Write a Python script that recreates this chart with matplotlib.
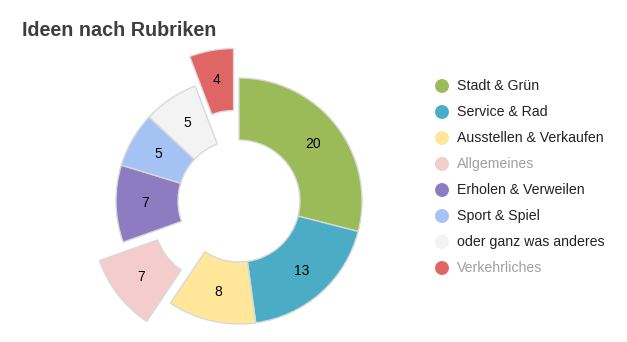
import matplotlib
matplotlib.use("Agg")
import matplotlib.pyplot as plt

plt.rcParams['font.family'] = ['Liberation Sans', 'DejaVu Sans']

categories = ["Stadt & Grün", "Service & Rad", "Ausstellen & Verkaufen", "Allgemeines",
              "Erholen & Verweilen", "Sport & Spiel", "oder ganz was anderes", "Verkehrliches"]
values = [20, 13, 8, 7, 7, 5, 5, 4]
colors = ["#9bbb59", "#4bacc6", "#ffe699", "#f4cccc", "#8e7cc3", "#a4c2f4", "#f3f3f3", "#e06666"]
sliced = [False, False, False, True, False, False, False, True]
muted = [False, False, False, True, False, False, False, True]

W, H = 627, 342
fig = plt.figure(figsize=(W / 100, H / 100), dpi=100)
ax = fig.add_axes([0, 0, 1, 1])

cx, cy, r = 239, H - 201, 123
total = sum(values)
# explode offset is in data units (pixels here)
explode = [30 if s else 0 for s in sliced]

wedges, texts, autotexts = ax.pie(
    values, colors=colors, explode=explode, radius=r, center=(cx, cy),
    startangle=90, counterclock=False,
    autopct=lambda p: f"{round(p * total / 100)}", pctdistance=0.76,
    wedgeprops=dict(width=62, edgecolor="#d9d9d9", linewidth=1),
    textprops=dict(fontsize=10, color="#000000"), frame=True)
ax.set_xlim(0, W)
ax.set_ylim(0, H)
ax.set_aspect('equal')
ax.axis('off')

fig.text(22 / W, 1 - 36 / H, "Ideen nach Rubriken", fontsize=14.2, fontweight='bold',
         color="#3e3e3e", ha='left', va='baseline')

# legend rows
for i, (name, col) in enumerate(zip(categories, colors)):
    y = H - (86 + 26 * i)
    ax.scatter([442], [y], s=100, color=col, edgecolors='none', zorder=5)
    ax.text(457, y, name, fontsize=10.2, va='center', ha='left',
            color="#a0a0a0" if muted[i] else "#222222")

fig.savefig("out.png", dpi=100)
